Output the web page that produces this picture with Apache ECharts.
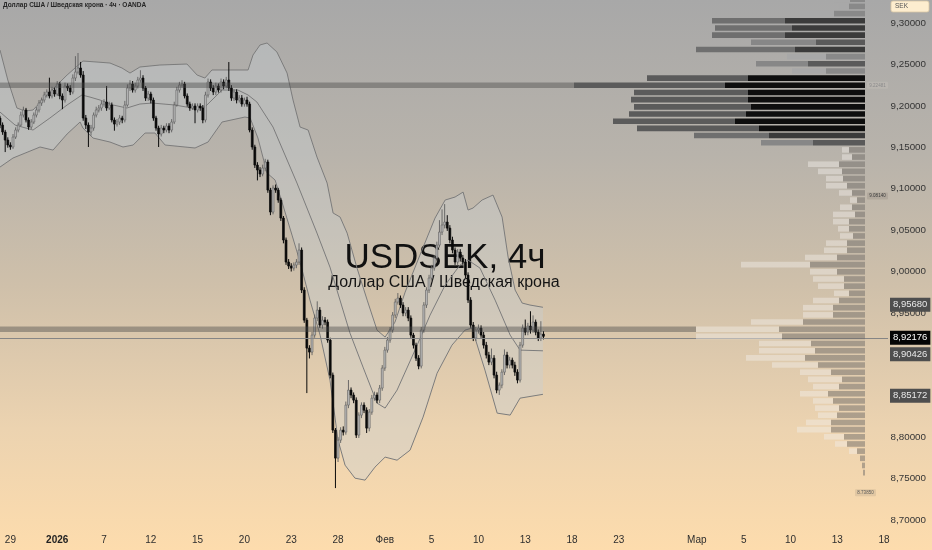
<!DOCTYPE html>
<html><head><meta charset="utf-8">
<script src="https://cdn.jsdelivr.net/npm/echarts@6/dist/echarts.min.js"></script>
<style>
html,body{margin:0;padding:0;}
#c{width:932px;height:550px;background:linear-gradient(180deg,#a8a8a8 0%,#b8b3ab 28%,#cfc0aa 52%,#ecd3b0 78%,#fddcad 100%);}
</style></head><body><div id="c"></div>
<script>
// ---- candles: [open, close, low, high], one per 4h bar (index = bar number)
const candles = [
[9.1853,9.1768,9.1730,9.1880],[9.1768,9.1684,9.1650,9.1800],[9.1684,9.1587,9.1442,9.1710],[9.1587,9.1527,9.1495,9.1620],
[9.1527,9.1503,9.1470,9.1560],[9.1503,9.1623,9.1480,9.1660],[9.1623,9.1708,9.1600,9.1740],[9.1708,9.1768,9.1680,9.1800],
[9.1768,9.1889,9.1750,9.1930],[9.1889,9.1950,9.1860,9.1990],[9.1950,9.1829,9.1800,9.1975],[9.1829,9.1744,9.1710,9.1860],
[9.1744,9.1805,9.1720,9.1840],[9.1805,9.1889,9.1780,9.1920],[9.1889,9.1950,9.1860,9.1985],[9.1950,9.2034,9.1920,9.2070],
[9.2034,9.2070,9.2000,9.2100],[9.2070,9.2131,9.2040,9.2170],[9.2131,9.2167,9.2100,9.2200],[9.2167,9.2119,9.2090,9.2340],
[9.2119,9.2191,9.2090,9.2230],[9.2191,9.2143,9.2110,9.2220],[9.2143,9.2264,9.2120,9.2300],[9.2264,9.2119,9.2080,9.2290],
[9.2119,9.2070,9.1960,9.2150],[9.2070,9.2239,9.2040,9.2280],[9.2239,9.2215,9.2180,9.2270],[9.2215,9.2167,9.2130,9.2250],
[9.2167,9.2336,9.2140,9.2380],[9.2336,9.2408,9.2300,9.2600],[9.2408,9.2457,9.2380,9.2638],[9.2457,9.2372,9.2340,9.2530],
[9.2372,9.1853,9.1820,9.2420],[9.1853,9.1768,9.1720,9.1890],[9.1768,9.1684,9.1503,9.1800],[9.1684,9.1732,9.1640,9.1770],
[9.1732,9.1889,9.1700,9.1920],[9.1889,9.1950,9.1860,9.1990],[9.1950,9.1974,9.1920,9.2010],[9.1974,9.2022,9.1940,9.2060],
[9.2022,9.2046,9.1990,9.2080],[9.2046,9.1974,9.1940,9.2240],[9.1974,9.2010,9.1950,9.2050],[9.2010,9.1829,9.1800,9.2040],
[9.1829,9.1780,9.1700,9.1860],[9.1780,9.1805,9.1750,9.1840],[9.1805,9.1853,9.1770,9.1890],[9.1853,9.1829,9.1790,9.1880],
[9.1829,9.2010,9.1800,9.2060],[9.2010,9.2215,9.1990,9.2260],[9.2215,9.2264,9.2180,9.2310],[9.2264,9.2191,9.2160,9.2300],
[9.2191,9.2239,9.2160,9.2280],[9.2239,9.2312,9.2210,9.2350],[9.2312,9.2336,9.2280,9.2430],[9.2336,9.2215,9.2180,9.2370],
[9.2215,9.2094,9.2060,9.2240],[9.2094,9.2143,9.2060,9.2180],[9.2143,9.2070,9.2030,9.2170],[9.2070,9.1853,9.1820,9.2100],
[9.1853,9.1732,9.1700,9.1880],[9.1732,9.1660,9.1503,9.1760],[9.1660,9.1732,9.1630,9.1770],[9.1732,9.1708,9.1670,9.1760],
[9.1708,9.1756,9.1680,9.1790],[9.1756,9.1708,9.1670,9.1790],[9.1708,9.1805,9.1680,9.1840],[9.1805,9.2010,9.1780,9.2050],
[9.2010,9.2191,9.1990,9.2230],[9.2191,9.2251,9.2160,9.2290],[9.2251,9.2264,9.2220,9.2310],[9.2264,9.2119,9.2090,9.2290],
[9.2119,9.2022,9.1990,9.2150],[9.2022,9.1974,9.1940,9.2050],[9.1974,9.1998,9.1950,9.2030],[9.1998,9.1950,9.1790,9.2030],
[9.1950,9.1998,9.1920,9.2030],[9.1998,9.1974,9.1940,9.2030],[9.1974,9.1829,9.1790,9.2010],[9.1829,9.2131,9.1800,9.2170],
[9.2131,9.2288,9.2100,9.2330],[9.2288,9.2215,9.2180,9.2320],[9.2215,9.2167,9.2130,9.2250],[9.2167,9.2239,9.2130,9.2280],
[9.2239,9.2191,9.2160,9.2270],[9.2191,9.2288,9.2160,9.2330],[9.2288,9.2239,9.2200,9.2320],[9.2239,9.2312,9.2210,9.2350],
[9.2312,9.2215,9.2180,9.2529],[9.2215,9.2094,9.2060,9.2250],[9.2094,9.2167,9.2060,9.2200],[9.2167,9.2070,9.2030,9.2200],
[9.2070,9.2094,9.2040,9.2130],[9.2094,9.2022,9.1990,9.2130],[9.2022,9.2070,9.1990,9.2100],[9.2070,9.2022,9.1990,9.2110],
[9.2022,9.1708,9.1680,9.2050],[9.1708,9.1503,9.1470,9.1740],[9.1503,9.1285,9.1250,9.1530],[9.1285,9.1225,9.1100,9.1320],
[9.1225,9.1177,9.1140,9.1260],[9.1177,9.1249,9.1150,9.1290],[9.1249,9.1322,9.1210,9.1360],[9.1322,9.0983,9.0950,9.1350],
[9.0983,9.0718,9.0680,9.1010],[9.0718,9.1008,9.0690,9.1040],[9.1008,9.0983,9.0950,9.1050],[9.0983,9.0863,9.0830,9.1010],
[9.0863,9.0645,9.0610,9.0890],[9.0645,9.0380,9.0340,9.0670],[9.0380,9.0114,9.0080,9.0410],[9.0114,9.0066,9.0030,9.0150],
[9.0066,9.0041,9.0000,9.0100],[9.0041,9.0078,9.0010,9.0110],[9.0078,9.0114,9.0040,9.0150],[9.0114,9.0259,9.0080,9.0340],
[9.0259,8.9776,8.9740,9.0290],[8.9776,8.9413,8.9380,8.9810],[8.9413,8.9075,8.8532,8.9440],[8.9075,8.9027,8.8950,8.9110],
[8.9027,8.9232,8.8990,8.9270],[8.9232,8.9438,8.9200,8.9480],[8.9438,8.9534,8.9400,8.9640],[8.9534,8.9353,8.9320,8.9570],
[8.9353,8.9413,8.9310,8.9460],[8.9413,8.9389,8.9350,8.9450],[8.9389,8.9172,8.9140,8.9420],[8.9172,8.8749,8.8710,8.9200],
[8.8749,8.8085,8.8050,8.8780],[8.8085,8.7747,8.7385,8.8110],[8.7747,8.7964,8.7700,8.8000],[8.7964,8.8085,8.7930,8.8120],
[8.8085,8.8061,8.8020,8.8130],[8.8061,8.8387,8.8030,8.8430],[8.8387,8.8568,8.8350,8.8690],[8.8568,8.8508,8.8470,8.8600],
[8.8508,8.8447,8.8410,8.8540],[8.8447,8.8025,8.7990,8.8480],[8.8025,8.8266,8.7990,8.8300],[8.8266,8.8387,8.8230,8.8420],
[8.8387,8.8326,8.8290,8.8420],[8.8326,8.8109,8.8050,8.8360],[8.8109,8.8302,8.8070,8.8340],[8.8302,8.8471,8.8270,8.8510],
[8.8471,8.8508,8.8440,8.8550],[8.8508,8.8447,8.8410,8.8540],[8.8447,8.8592,8.8410,8.8630],[8.8592,8.8834,8.8560,8.8870],
[8.8834,8.9051,8.8800,8.9090],[8.9051,8.9172,8.9020,8.9210],[8.9172,8.9293,8.9140,8.9330],[8.9293,8.9474,8.9260,8.9510],
[8.9474,8.9631,8.9440,8.9670],[8.9631,8.9679,8.9600,8.9740],[8.9679,8.9595,8.9560,8.9710],[8.9595,8.9498,8.9460,8.9630],
[8.9498,8.9534,8.9460,8.9570],[8.9534,8.9438,8.9400,8.9570],[8.9438,8.9232,8.9200,8.9470],[8.9232,8.9111,8.9070,8.9260],
[8.9111,8.8954,8.8920,8.9140],[8.8954,8.8858,8.8820,8.8990],[8.8858,8.9293,8.8830,8.9330],[8.9293,8.9595,8.9260,8.9630],
[8.9595,8.9776,8.9560,8.9810],[8.9776,8.9921,8.9740,8.9960],[8.9921,9.0041,8.9890,9.0080],[9.0041,9.0162,9.0010,9.0200],
[9.0162,9.0319,9.0130,9.0360],[9.0319,9.0476,9.0290,9.0620],[9.0476,9.0561,9.0440,9.0750],[9.0561,9.0597,9.0520,9.0814],
[9.0597,9.0524,9.0490,9.0680],[9.0524,9.0380,9.0340,9.0560],[9.0380,9.0259,9.0220,9.0420],[9.0259,9.0114,9.0080,9.0290],
[9.0114,9.0235,9.0080,9.0270],[9.0235,9.0162,9.0120,9.0270],[9.0162,9.0114,9.0080,9.0200],[9.0114,8.9957,8.9920,9.0150],
[8.9957,8.9655,8.9620,8.9990],[8.9655,8.9353,8.9320,8.9690],[8.9353,8.9196,8.9160,8.9390],[8.9196,8.9293,8.9160,8.9330],
[8.9293,8.9317,8.9250,8.9360],[8.9317,8.9232,8.9200,8.9350],[8.9232,8.9111,8.9070,8.9270],[8.9111,8.8991,8.8950,8.9150],
[8.8991,8.8906,8.8870,8.9030],[8.8906,8.8954,8.8870,8.9070],[8.8954,8.8749,8.8710,8.8990],[8.8749,8.8568,8.8530,8.8790],
[8.8568,8.8628,8.8510,8.8660],[8.8628,8.8785,8.8590,8.8820],[8.8785,8.8991,8.8750,8.9060],[8.8991,8.8870,8.8830,8.9030],
[8.8870,8.8930,8.8830,8.8970],[8.8930,8.8870,8.8830,8.8960],[8.8870,8.8785,8.8740,8.8910],[8.8785,8.8689,8.8650,8.8820],
[8.8689,8.9111,8.8660,8.9150],[8.9111,8.9317,8.9080,8.9360],[8.9317,8.9268,8.9230,8.9420],[8.9268,8.9341,8.9230,8.9380],
[8.9341,8.9293,8.9250,8.9520],[8.9293,8.9389,8.9260,8.9470],[8.9389,8.9268,8.9230,8.9420],[8.9268,8.9196,8.9160,8.9300],
[8.9196,8.9244,8.9160,8.9400],[8.9244,8.92176,8.9180,8.9280]
];

// ---- Bollinger bands: [bar, price]
const bbUpper = [[0,9.2674],[3,9.2312],[6.5,9.1974],[9.6,9.1937],[12.7,9.1950],[19.2,9.2167],[25.8,9.2372],[31.9,9.2541],[37.3,9.2529],[42.3,9.2517],[46.9,9.2457],[50,9.2396],[53.8,9.2469],[61.5,9.2493],[71.9,9.2505],[75.8,9.2372],[78.8,9.2336],[81.5,9.2433],[88.5,9.2433],[95.4,9.2433],[97.3,9.2614],[100,9.2735],[102.7,9.2759],[106.5,9.2650],[110.4,9.2396],[112.7,9.2070],[115.4,9.1744],[118.5,9.1708],[121.9,9.1382],[125.8,9.1068],[128.1,9.0706],[130.8,9.0657],[133.5,9.0464],[137.3,9.0041],[141.2,8.9655],[145,8.9292],[148.1,8.9208],[151.9,8.9389],[155.8,8.9751],[161.5,9.0198],[167.3,9.0645],[171.2,9.0863],[175,9.0899],[178.1,9.0959],[180,9.0742],[181.9,9.0766],[185.4,9.0863],[189.6,9.0923],[193.1,9.0657],[195.4,9.0174],[198.1,8.9776],[200.8,8.9619],[203.8,8.9595],[208.8,8.9568]];
const bbMiddle = [[0,9.1925],[5.8,9.1768],[12.7,9.1708],[19.2,9.1853],[25.8,9.2010],[31.5,9.2131],[34.6,9.2106],[38.5,9.2070],[43.5,9.2010],[48.8,9.1974],[53.8,9.2022],[58.5,9.2034],[67.3,9.2010],[73.8,9.1974],[78.8,9.1986],[85.4,9.2191],[91.5,9.2191],[95.4,9.2131],[98.8,9.2046],[105,9.1744],[114.2,9.1068],[121.9,9.0464],[126.9,9.0053],[134.6,8.9256],[139.6,8.8846],[145,8.8411],[148.1,8.8351],[152.7,8.8568],[159.6,8.9051],[165.4,8.9474],[171.2,8.9836],[176.9,9.0078],[180,9.0138],[184.6,9.0041],[190.4,8.9655],[196.2,8.9232],[200,8.9051],[208.8,8.90426]];
const bbLower = [[0,9.1261],[5,9.1370],[15.4,9.1503],[20.4,9.1466],[25.8,9.1660],[30.8,9.1805],[31.9,9.1732],[35.8,9.1611],[42.3,9.1563],[47.3,9.1503],[51.2,9.1527],[55.8,9.1672],[59.6,9.1672],[63.5,9.1527],[75,9.1491],[80,9.1563],[85.4,9.1805],[94.2,9.1865],[96.2,9.1853],[99.2,9.1611],[102.7,9.1189],[105.8,9.1104],[108.8,9.0802],[112.3,9.0440],[115.4,9.0114],[119.2,8.9655],[123.1,8.9232],[126.9,8.8689],[130,8.7964],[132.7,8.7662],[136.5,8.7505],[140.4,8.7481],[144.2,8.7638],[148.1,8.7759],[152.7,8.7722],[157.7,8.7843],[162.7,8.8242],[168.1,8.8773],[173.8,8.9111],[178.8,8.9292],[181.5,8.9317],[186.5,8.8809],[191.2,8.8290],[196.2,8.8266],[200,8.8471],[208.8,8.85172]];

// ---- visible range volume profile (rows from top to bottom)
const vpTopPrice = 9.3287;   // centre of first row
const vpRowSize = 0.00866;
const vpUp =   [16,10,34,73,77,73,65,99,39,52,34,101,151,114,117,117,117,122,122,75,52,7,10,31,24,17,21,13,7,12,22,16,11,13,21,23,32,69,27,31,26,15,26,30,30,52,83,86,52,56,59,46,31,34,26,28,20,24,19,25,34,20,12,8,0,0,0];
const vpDown = [15,16,31,80,73,80,49,70,39,57,39,117,140,117,117,114,119,130,106,96,52,16,13,26,23,22,18,13,8,13,10,16,16,12,18,18,28,55,28,21,21,16,26,32,32,62,86,83,54,50,60,47,34,23,26,37,32,26,28,34,34,21,18,8,5,3,2];
const vpExtendRows = [12, 46];

// ---- axes
const xTickIdx = [4,22,40,58,76,94,112,130,148,166,184,202,220,238,268,286,304,322,340];
const xTickLabels = ['29','2026','7','12','15','20','23','28','Фев','5','10','13','18','23','Мар','5','10','13','18'];
const yTicks = [8.70,8.75,8.80,8.85,8.90,8.95,9.00,9.05,9.10,9.15,9.20,9.25,9.30];
const lastPrice = 8.92176;
const bbLastUpper = 8.95680, bbLastMiddle = 8.90426, bbLastLower = 8.85172;
const rangeHigh = 9.22481, rangeMid = 9.08140, rangeLow = 8.73850;

const FONT = 'Liberation Sans, Arial, sans-serif';
const Y_MIN = 8.6879, Y_MAX = 9.3278, X_MAX = 341.5, VP_MAX = 865;
const fmt = v => v.toFixed(5).replace('.', ',');

const chart = echarts.init(document.getElementById('c'), null, {renderer:'canvas'});

function boxLabel(v, bg, fg) {
  const txt = fmt(v);
  return {show:true, position:'end', distance:2, formatter: () => txt,
    backgroundColor:bg, color:fg, padding:[2,3,2,3], fontSize:9.5, fontFamily:FONT, lineHeight:10};
}

function vpColors(i, total) {
  const price = vpTopPrice - i * vpRowSize;
  if (price >= 9.15) {
    if (total >= 200) return ['#5b5b5b', '#0e0e0e'];
    if (total >= 140) return ['#6f6f6f', '#3b3b3b'];
    if (total >= 100) return ['#878787', '#5a5a5a'];
    return ['rgba(168,168,168,0.95)', 'rgba(135,135,135,0.95)'];
  }
  return ['rgba(242,238,232,0.45)', 'rgba(112,108,104,0.5)'];
}

const option = {
  animation: false,
  backgroundColor: 'transparent',
  grid: [
    {left:0, right:44, top:0, bottom:20},
    {left:0, right:932-VP_MAX, top:0, bottom:20}
  ],
  xAxis: [
    {type:'value', gridIndex:0, min:0, max:X_MAX,
     axisLine:{show:false}, axisTick:{show:false}, splitLine:{show:false},
     axisLabel:{customValues:xTickIdx, margin:5, fontSize:10, fontFamily:FONT, color:'#2e2e2e',
       formatter: v => { const s = xTickLabels[xTickIdx.indexOf(v)]; return s === '2026' ? '{b|2026}' : s; },
       rich:{b:{fontWeight:'bold', fontSize:10, fontFamily:FONT, color:'#222'}}}},
    {type:'value', gridIndex:1, min:0, max:VP_MAX, inverse:true, show:false}
  ],
  yAxis: [
    {type:'value', gridIndex:0, position:'right', min:Y_MIN, max:Y_MAX,
     axisLine:{show:false}, axisTick:{show:false}, splitLine:{show:false},
     axisLabel:{customValues:yTicks, align:'right', margin:38, fontSize:9.8, fontFamily:FONT, color:'#353535',
       formatter: v => fmt(v)}},
    {type:'value', gridIndex:1, min:Y_MIN, max:Y_MAX, show:false}
  ],
  series: [
    { // Bollinger fill
      type:'custom', xAxisIndex:0, yAxisIndex:0, z:1, silent:true,
      data:[[0, Y_MIN]],
      renderItem: (params, api) => {
        const pts = bbUpper.map(p => api.coord(p)).concat(bbLower.slice().reverse().map(p => api.coord(p)));
        return {type:'polygon', shape:{points:pts}, style:{fill:'rgba(200,208,214,0.36)'}};
      }
    },
    {type:'line', data:bbUpper, showSymbol:false, z:3, silent:true,
     lineStyle:{color:'#7c7c7c', width:1},
     markLine:{silent:true, symbol:'none', animation:false,
       data:[
         {yAxis:lastPrice, lineStyle:{color:'#858585', width:1, type:'solid'}, label:boxLabel(lastPrice,'#050505','#ffffff')},
         {yAxis:bbLastUpper, lineStyle:{color:'rgba(0,0,0,0)', width:0}, label:boxLabel(bbLastUpper,'#4e4e4e','#e8e8e8')},
         {yAxis:bbLastMiddle, lineStyle:{color:'rgba(0,0,0,0)', width:0}, label:boxLabel(bbLastMiddle,'#4e4e4e','#e8e8e8')},
         {yAxis:bbLastLower, lineStyle:{color:'rgba(0,0,0,0)', width:0}, label:boxLabel(bbLastLower,'#4e4e4e','#e8e8e8')}
       ]}},
    {type:'line', data:bbMiddle, showSymbol:false, z:3, silent:true, lineStyle:{color:'#7c7c7c', width:1}},
    {type:'line', data:bbLower, showSymbol:false, z:3, silent:true, lineStyle:{color:'#7c7c7c', width:1}},
    { // candles
      type:'custom', xAxisIndex:0, yAxisIndex:0, z:4, silent:true,
      data: candles.map((d, i) => [i, d[0], d[1], d[2], d[3]]),
      encode:{x:0, y:[1,2,3,4]},
      renderItem: (params, api) => {
        const i = api.value(0), o = api.value(1), c = api.value(2), l = api.value(3), h = api.value(4);
        const pO = api.coord([i, o]), pC = api.coord([i, c]), pL = api.coord([i, l]), pH = api.coord([i, h]);
        const w = api.size([1, 0])[0] * 0.72;
        const up = c >= o;
        const top = Math.min(pO[1], pC[1]);
        const bh = Math.max(Math.abs(pO[1] - pC[1]), 1);
        const stroke = up ? 'rgba(95,95,95,0.9)' : '#0a0a0a';
        return {type:'group', children:[
          {type:'line', shape:{x1:pH[0], y1:pH[1], x2:pL[0], y2:pL[1]}, style:{stroke:stroke, lineWidth:1}},
          {type:'rect', shape:{x:pO[0] - w/2, y:top, width:w, height:bh},
           style:{fill: up ? 'rgba(200,200,200,0.85)' : '#0a0a0a', stroke:stroke, lineWidth:0.7}}
        ]};
      }
    },
    { // volume profile
      type:'custom', xAxisIndex:1, yAxisIndex:1, z:5, silent:true,
      data: vpUp.map((u, i) => [i, u, vpDown[i]]),
      encode:{x:1, y:0},
      renderItem: (params, api) => {
        const i = api.value(0), u = api.value(1), d = api.value(2);
        const pc = vpTopPrice - i * vpRowSize;
        const yT = api.coord([0, pc + vpRowSize * 0.39])[1];
        const yB = api.coord([0, pc - vpRowSize * 0.39])[1];
        const xR = api.coord([0, pc])[0], xS = api.coord([d, pc])[0], xL = api.coord([d + u, pc])[0];
        const cols = vpColors(i, u + d);
        const ch = [];
        if (vpExtendRows.indexOf(i) >= 0) {
          const x0 = api.coord([VP_MAX, pc])[0];
          ch.push({type:'rect', shape:{x:x0, y:yT, width:xL - x0, height:yB - yT}, style:{fill:'rgba(72,72,72,0.42)'}});
        }
        if (u > 0) ch.push({type:'rect', shape:{x:xL, y:yT, width:xS - xL, height:yB - yT}, style:{fill:cols[0]}});
        if (d > 0) ch.push({type:'rect', shape:{x:xS, y:yT, width:xR - xS, height:yB - yT}, style:{fill:cols[1]}});
        return {type:'group', children:ch};
      }
    }
  ],
  graphic: [
    {type:'text', left:3, top:2, z:0, style:{text:'Доллар США / Шведская крона · 4ч · OANDA', fontSize:6.5, fontWeight:'bold', fontFamily:FONT, fill:'#262626'}},
    {type:'text', x:445, y:258, z:2, style:{text:'USDSEK, 4ч', fontSize:35, fontFamily:FONT, fill:'#111111', align:'center', verticalAlign:'middle'}},
    {type:'text', x:444, y:283, z:2, style:{text:'Доллар США / Шведская крона', fontSize:16, fontFamily:FONT, fill:'#151515', align:'center', verticalAlign:'middle'}},
    {type:'rect', shape:{x:891, y:1, width:38, height:11, r:2}, z:10, style:{fill:'#fdedcf', stroke:'#d8c6a4', lineWidth:0.8}},
    {type:'text', x:895, y:6.5, z:11, style:{text:'SEK', fontSize:6.5, fontFamily:FONT, fill:'#555', verticalAlign:'middle'}}
  ]
};
chart.setOption(option);

// small range labels in the price-scale gutter, placed from their prices
const yHi = chart.convertToPixel({yAxisIndex:0}, rangeHigh);
const yMid = chart.convertToPixel({yAxisIndex:0}, rangeMid + 0.0097);
const yLo = chart.convertToPixel({yAxisIndex:0}, rangeLow - 0.0055);
function tiny(x, y, txt, bg, fg) {
  return [
    {type:'rect', shape:{x:x, y:y - 3.5, width:21, height:7, r:1}, z:10, style:{fill:bg}},
    {type:'text', x:x + 10.5, y:y, z:11, style:{text:txt, fontSize:4.5, fontFamily:FONT, fill:fg, align:'center', verticalAlign:'middle'}}
  ];
}
chart.setOption({graphic: option.graphic.concat(
  tiny(867, yHi, rangeHigh.toFixed(5), 'rgba(200,196,190,0.35)', '#8a8a8a'),
  tiny(867, yMid, rangeMid.toFixed(5), 'rgba(160,150,140,0.45)', '#3a3a3a'),
  tiny(855, yLo, rangeLow.toFixed(5), 'rgba(190,170,140,0.35)', '#5a5a5a')
)});
</script></body></html>
